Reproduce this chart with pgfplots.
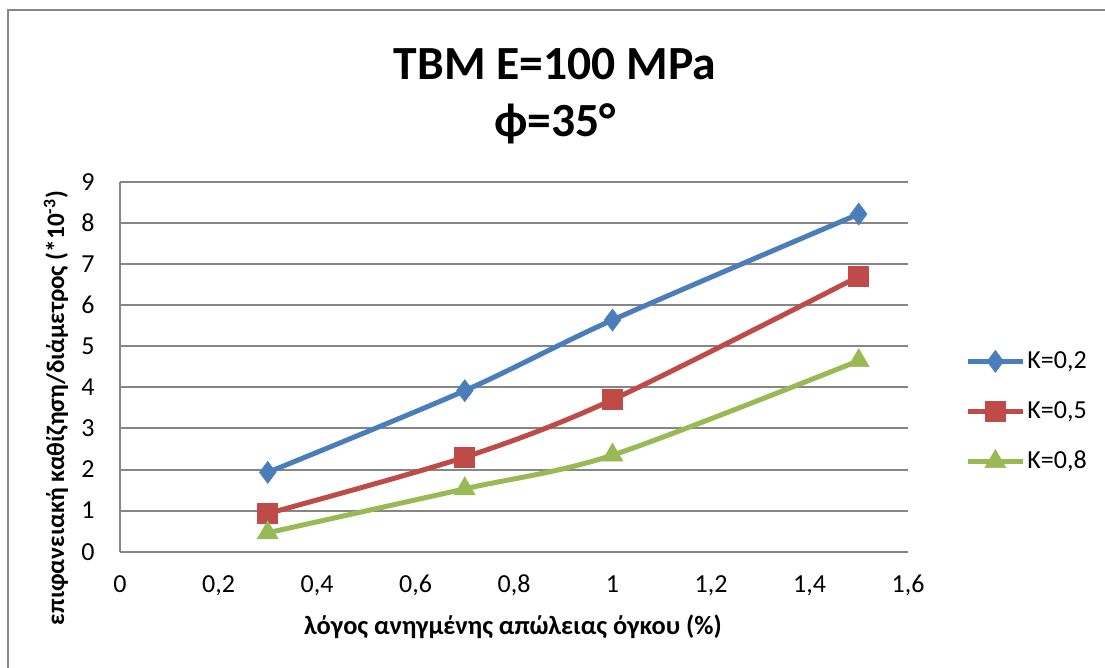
\documentclass[border=0pt]{standalone}
\usepackage{pgfplots}
\pgfplotsset{compat=1.18}
\usepackage{fontspec}
\setmainfont{Carlito}
\definecolor{cblue}{HTML}{4A7EBB}
\definecolor{cred}{HTML}{BE4B48}
\definecolor{cgreen}{HTML}{98B954}
\definecolor{cgrid}{HTML}{868686}
\begin{document}
\begin{tikzpicture}[x=1pt,y=1pt]
\useasboundingbox (0,0) rectangle (552.5,334);
\draw[cgrid, line width=1pt] (4,-5) -- (4,329) -- (560,329);
\begin{axis}[
  at={(60pt,58.15pt)}, anchor=south west,
  width=394pt, height=184.85pt, scale only axis,
  xmin=0, xmax=1.6, ymin=0, ymax=9,
  xtick={0,0.2,0.4,0.6,0.8,1,1.2,1.4,1.6},
  ytick={0,1,2,3,4,5,6,7,8,9},
  ymajorgrids, grid style={cgrid, line width=1pt},
  axis x line=bottom, axis y line=left,
  axis line style={cgrid, line width=1pt, -},
  major tick length=0pt,
  tick label style={font=\fontsize{13}{15}\selectfont, inner sep=0pt},
  xticklabel style={anchor=base, yshift=-20.65pt},
  yticklabel style={anchor=east, xshift=-12.5pt},
  /pgf/number format/.cd, use comma, assume math mode=true, /pgfplots/.cd,
  legend style={draw=none, fill=none, at={(1.0723,0.3787)}, anchor=west,
    font=\fontsize{13}{15}\selectfont, row sep=11pt, inner sep=0pt,
    cells={anchor=west}, column sep=-1pt},
  legend image code/.code={\draw[mark repeat=2,mark phase=2,#1] plot coordinates {(0pt,0pt) (13.75pt,0pt) (27.5pt,0pt)};},
  clip=false,
]
\addplot[cblue, line width=2.5pt, smooth, mark=diamond*, mark size=5.5pt, mark options={line width=0.3pt, fill=cblue}]
  coordinates {(0.3,1.93) (0.7,3.92) (1.0,5.64) (1.5,8.22)};
\addlegendentry{K=0,2}
\addplot[cred, line width=2.5pt, smooth, mark=square*, mark size=5pt, mark options={line width=0.3pt, fill=cred}]
  coordinates {(0.3,0.93) (0.7,2.30) (1.0,3.70) (1.5,6.70)};
\addlegendentry{K=0,5}
\addplot[cgreen, line width=2.5pt, smooth, mark=triangle*, mark size=6pt, mark options={line width=0.3pt, fill=cgreen}]
  coordinates {(0.3,0.46) (0.7,1.53) (1.0,2.35) (1.5,4.65)};
\addlegendentry{K=0,8}
\end{axis}
\node[anchor=base, font=\fontsize{23.8}{28}\selectfont\bfseries] at (277.5,294) {TBM E=100 MPa};
\node[anchor=base, font=\fontsize{23.8}{28}\selectfont\bfseries] at (277.5,265.5) {ϕ=35°};
\node[anchor=base, font=\fontsize{13.2}{15}\selectfont\bfseries] at (256.5,16.5) {λόγος ανηγμένης απώλειας όγκου (\%)};
\node[anchor=base, rotate=90, font=\fontsize{12.6}{14}\selectfont\bfseries] at (32,130) {επιφανειακή καθίζηση/διάμετρος (*10\textsuperscript{-3})};
\end{tikzpicture}
\end{document}
